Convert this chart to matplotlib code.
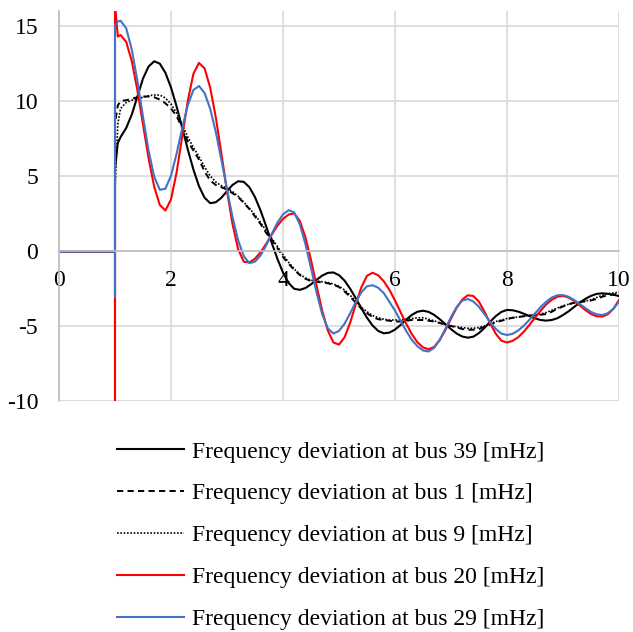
import numpy as np
import matplotlib
matplotlib.use("Agg")
import matplotlib.pyplot as plt

plt.rcParams['font.family'] = ['Liberation Serif', 'DejaVu Serif']

# sample times [s]: flat start, step at t=1, then every 0.1 s
time = np.concatenate([[0, 0.99, 1.0, 1.0, 1.0, 1.05],
                       np.round(np.arange(1.1, 10.05, 0.1), 2)])

# frequency deviations [mHz]
bus39 = [-0.05, -0.05, -0.05, -0.05, 5.5, 7.2,
         7.6, 8.2, 9.1, 10.3, 11.5, 12.3, 12.65, 12.49, 11.88, 10.90,
         9.64, 8.22, 6.77, 5.43, 4.32, 3.55, 3.19, 3.25, 3.55, 3.99,
         4.41, 4.65, 4.61, 4.25, 3.59, 2.69, 1.64, 0.53, -0.52, -1.44,
         -2.13, -2.52, -2.59, -2.47, -2.22, -1.92, -1.64, -1.46, -1.43, -1.61,
         -1.98, -2.52, -3.15, -3.82, -4.45, -4.97, -5.33, -5.49, -5.44, -5.24,
         -4.93, -4.58, -4.26, -4.05, -3.98, -4.06, -4.26, -4.55, -4.88, -5.21,
         -5.50, -5.70, -5.78, -5.71, -5.47, -5.12, -4.71, -4.34, -4.06, -3.93,
         -3.95, -4.04, -4.18, -4.34, -4.49, -4.60, -4.64, -4.60, -4.48, -4.27,
         -4.02, -3.73, -3.44, -3.19, -2.99, -2.86, -2.82, -2.85, -2.92, -3.00]

bus1 = [-0.05, -0.05, -0.05, -0.05, 8.5, 9.7,
        10.0, 10.05, 10.15, 10.25, 10.3, 10.3, 10.25, 10.1, 9.85, 9.5,
        9.0, 8.2, 7.3, 6.7, 6.1, 5.3, 4.7, 4.4, 4.25, 4.1,
        3.85, 3.6, 3.2, 2.8, 2.3, 1.8, 1.2, 0.75, 0.2, -0.4,
        -0.85, -1.25, -1.6, -1.85, -2.0, -2.05, -2.1, -2.15, -2.25, -2.4,
        -2.7, -3.05, -3.45, -3.85, -4.15, -4.4, -4.55, -4.6, -4.65, -4.7,
        -4.7, -4.65, -4.6, -4.6, -4.6, -4.65, -4.7, -4.8, -4.9, -5.0,
        -5.1, -5.2, -5.25, -5.25, -5.2, -5.05, -4.9, -4.75, -4.65, -4.55,
        -4.45, -4.4, -4.35, -4.3, -4.3, -4.25, -4.2, -4.05, -3.85, -3.7,
        -3.55, -3.45, -3.4, -3.35, -3.3, -3.2, -3.05, -2.95, -2.9, -2.85]

bus9 = [-0.05, -0.05, -0.05, -0.05, 4.0, 8.5,
        9.5, 9.9, 10.05, 10.15, 10.25, 10.35, 10.4, 10.4, 10.2, 9.8,
        9.2, 8.4, 7.6, 6.9, 6.3, 5.6, 5.0, 4.6, 4.35, 4.2,
        3.95, 3.65, 3.25, 2.85, 2.4, 1.9, 1.35, 0.85, 0.3, -0.25,
        -0.75, -1.2, -1.55, -1.8, -1.95, -2.0, -2.05, -2.1, -2.2, -2.35,
        -2.6, -2.95, -3.35, -3.75, -4.05, -4.3, -4.45, -4.55, -4.6, -4.6,
        -4.6, -4.55, -4.5, -4.45, -4.45, -4.55, -4.65, -4.8, -4.9, -5.0,
        -5.05, -5.1, -5.15, -5.15, -5.1, -5.0, -4.85, -4.7, -4.6, -4.5,
        -4.45, -4.4, -4.35, -4.3, -4.25, -4.2, -4.1, -3.95, -3.8, -3.65,
        -3.55, -3.45, -3.4, -3.35, -3.25, -3.1, -2.95, -2.85, -2.8, -2.75]

bus20 = [-0.05, -0.05, -0.05, -10.3, 16.5, 14.3,
         14.4, 13.94, 12.65, 10.71, 8.44, 6.17, 4.29, 3.07, 2.70, 3.44,
         5.24, 7.63, 10.01, 11.81, 12.54, 12.17, 10.89, 8.91, 6.50, 4.00,
         1.77, 0.11, -0.72, -0.76, -0.51, -0.08, 0.48, 1.10, 1.68, 2.14,
         2.43, 2.50, 2.01, 0.92, -0.60, -2.32, -3.98, -5.30, -6.10, -6.24,
         -5.75, -4.77, -3.55, -2.41, -1.65, -1.45, -1.62, -2.02, -2.59, -3.30,
         -4.08, -4.85, -5.54, -6.08, -6.43, -6.55, -6.39, -5.93, -5.27, -4.51,
         -3.79, -3.24, -2.95, -3.00, -3.39, -4.06, -4.83, -5.52, -5.98, -6.10,
         -5.99, -5.75, -5.38, -4.93, -4.45, -3.98, -3.56, -3.25, -3.05, -3.00,
         -3.10, -3.33, -3.63, -3.94, -4.20, -4.35, -4.37, -4.22, -3.85, -3.27]

bus29 = [-0.05, -0.05, -0.05, -3.05, 15.0, 15.3,
         15.35, 14.85, 13.42, 11.34, 8.95, 6.69, 4.96, 4.08, 4.15, 5.02,
         6.49, 8.19, 9.72, 10.73, 11.0, 10.53, 9.48, 7.94, 6.07, 4.11,
         2.24, 0.70, -0.35, -0.81, -0.71, -0.29, 0.38, 1.15, 1.89, 2.44,
         2.72, 2.57, 1.78, 0.47, -1.14, -2.78, -4.21, -5.16, -5.50, -5.33,
         -4.84, -4.15, -3.40, -2.75, -2.35, -2.28, -2.45, -2.81, -3.39, -3.97,
         -4.66, -5.33, -5.92, -6.35, -6.63, -6.70, -6.45, -5.92, -5.18, -4.41,
         -3.74, -3.31, -3.20, -3.37, -3.73, -4.22, -4.74, -5.20, -5.51, -5.60,
         -5.52, -5.30, -4.98, -4.59, -4.16, -3.74, -3.38, -3.10, -2.95, -2.94,
         -3.05, -3.27, -3.53, -3.81, -4.06, -4.22, -4.27, -4.15, -3.85, -3.38]

labels = ["Frequency deviation at bus 39 [mHz]",
          "Frequency deviation at bus 1 [mHz]",
          "Frequency deviation at bus 9 [mHz]",
          "Frequency deviation at bus 20 [mHz]",
          "Frequency deviation at bus 29 [mHz]"]

fig = plt.figure(figsize=(6.33, 6.32), dpi=100)
ax = fig.add_axes([59 / 633, 1 - 401 / 632, 560 / 633, 390 / 632])

ax.plot(time, bus39, color='black', lw=1.5, label=labels[0])
ax.plot(time, bus1, color='black', lw=1.4, ls=(0, (3.2, 2.2)), label=labels[1])
ax.plot(time, bus9, color='black', lw=1.2, ls=(0, (1, 1)), label=labels[2])
ax.plot(time, bus20, color='#ff0000', lw=1.5, label=labels[3])
ax.plot(time, bus29, color='#4472c4', lw=1.5, label=labels[4])

ax.set_xlim(0, 10)
ax.set_ylim(-10, 16)
ax.set_xticks([0, 2, 4, 6, 8, 10])
ax.set_yticks([-10, -5, 0, 5, 10, 15])
ax.set_yticklabels(['-10', '-5', '0', '5', '10', '15'])
ax.grid(True, color='#d9d9d9', lw=1.2)
ax.set_axisbelow(True)
for s in ['top', 'right']:
    ax.spines[s].set_visible(False)
ax.spines['bottom'].set_position(('data', 0))
ax.spines['bottom'].set_color('#bfbfbf')
ax.spines['left'].set_color('#bfbfbf')
ax.spines['bottom'].set_linewidth(1.2)
ax.spines['left'].set_linewidth(1.2)
ax.axhline(-10, color='#d9d9d9', lw=1.2, zorder=0)
ax.tick_params(axis='x', length=0, pad=14, labelsize=17)
ax.tick_params(axis='y', length=0, pad=15, labelsize=17)

fig.legend(loc='upper left', bbox_to_anchor=(117 / 633, 1 - 441 / 632),
           frameon=False, fontsize=17, handlelength=2.84, handletextpad=0.34,
           labelspacing=0.865, borderpad=0, borderaxespad=0)

fig.savefig('out.png', dpi=100)
